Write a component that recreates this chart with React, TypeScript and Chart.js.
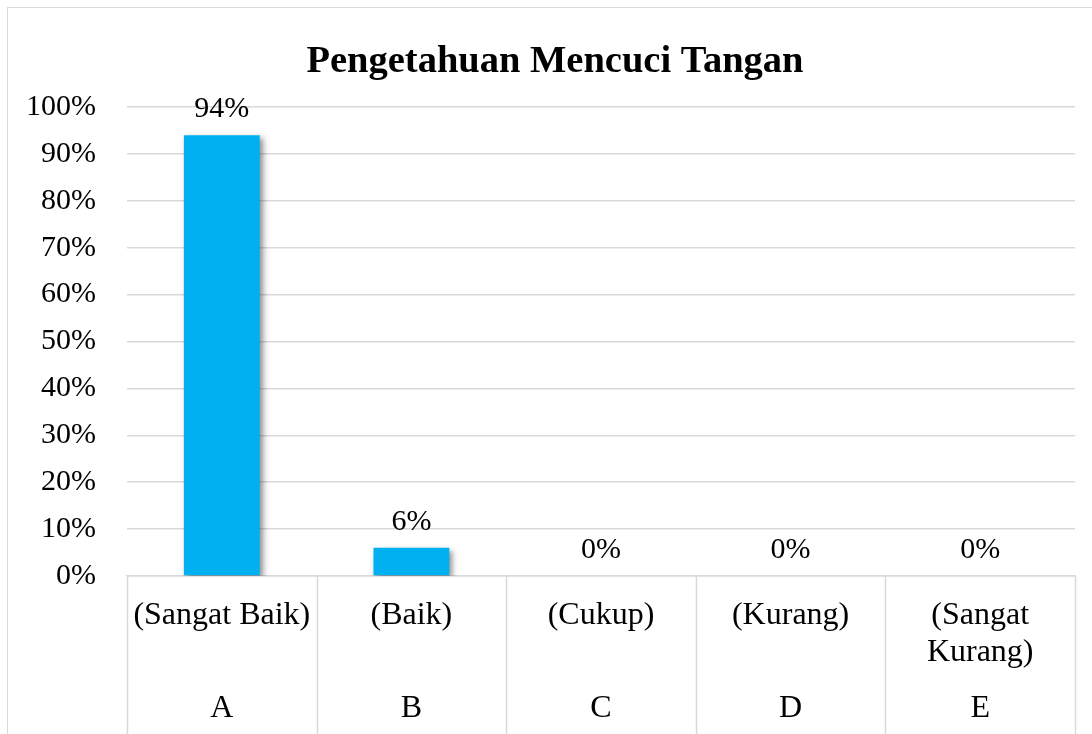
import React, { useEffect, useRef } from "react";
import { Chart, registerables } from "chart.js";

Chart.register(...registerables);

const TITLE = "Pengetahuan Mencuci Tangan";
const CATEGORY_LABELS: (string | string[])[] = [
  "(Sangat Baik)",
  "(Baik)",
  "(Cukup)",
  "(Kurang)",
  ["(Sangat", "Kurang)"],
];
const GROUP_LABELS = ["A", "B", "C", "D", "E"];
const VALUES = [94, 6, 0, 0, 0];
const VALUE_LABELS = ["94%", "6%", "0%", "0%", "0%"];

const FONT = "'Liberation Serif', 'Times New Roman', serif";
const GRID = "#d9d9d9";

const decorPlugin = {
  id: "decor",
  beforeDatasetsDraw(chart: any) {
    const ctx = chart.ctx;
    ctx.save();
    ctx.shadowColor = "rgba(0,0,0,0.45)";
    ctx.shadowBlur = 6;
    ctx.shadowOffsetX = 3;
    ctx.shadowOffsetY = 3;
  },
  afterDatasetsDraw(chart: any) {
    const ctx = chart.ctx;
    ctx.restore();
    const meta = chart.getDatasetMeta(0);
    ctx.save();
    ctx.fillStyle = "#000";
    ctx.font = `30px ${FONT}`;
    ctx.textAlign = "center";
    ctx.textBaseline = "alphabetic";
    meta.data.forEach((bar: any, i: number) => {
      ctx.fillText(VALUE_LABELS[i], bar.x, bar.y - 18);
    });
    ctx.restore();
  },
  afterDraw(chart: any) {
    const ctx = chart.ctx;
    const xs = chart.scales.x;
    const area = chart.chartArea;
    const n = GROUP_LABELS.length;
    const step = (area.right - area.left) / n;
    ctx.save();
    // title
    ctx.fillStyle = "#000";
    ctx.font = `bold 38.5px ${FONT}`;
    ctx.textAlign = "center";
    ctx.textBaseline = "alphabetic";
    ctx.fillText(TITLE, chart.width / 2, 64);
    // separators
    ctx.strokeStyle = GRID;
    ctx.lineWidth = 1.5;
    for (let i = 0; i <= n; i++) {
      const x = Math.round(area.left + i * step) + 0.5;
      ctx.beginPath();
      ctx.moveTo(x, area.bottom);
      ctx.lineTo(x, chart.height);
      ctx.stroke();
    }
    // group labels
    ctx.font = `32px ${FONT}`;
    ctx.textBaseline = "middle";
    GROUP_LABELS.forEach((g, i) => {
      ctx.fillText(g, xs.getPixelForValue(i), 701);
    });
    ctx.restore();
  },
};

export default function App() {
  const ref = useRef<HTMLCanvasElement>(null);
  useEffect(() => {
    document.body.style.margin = "0";
    const chart = new Chart(ref.current!, {
      type: "bar",
      data: {
        labels: CATEGORY_LABELS as any,
        datasets: [
          {
            data: VALUES,
            backgroundColor: "#00B0F0",
            borderWidth: 0,
            categoryPercentage: 1,
            barPercentage: 0.4,
          },
        ],
      },
      options: {
        responsive: false,
        animation: false,
        devicePixelRatio: 1,
        layout: { padding: { top: 99, right: 27, left: 0, bottom: 0 } },
        plugins: {
          legend: { display: false },
          title: { display: false },
          tooltip: { enabled: false },
        },
        scales: {
          x: {
            grid: { display: false, drawTicks: false },
            border: { display: true, color: GRID, width: 1.5 },
            ticks: {
              color: "#000",
              font: { family: FONT, size: 32, lineHeight: 1.15 },
              padding: 21,
              maxRotation: 0,
              autoSkip: false,
            },
            afterFit(scale: any) {
              scale.height = 760 - 568;
            },
          },
          y: {
            min: 0,
            max: 100,
            grid: { color: GRID, lineWidth: 1.5, drawTicks: false },
            border: { display: false },
            ticks: {
              stepSize: 10,
              color: "#000",
              font: { family: FONT, size: 30 },
              padding: 31,
              callback: (v: any) => `${v}%`,
            },
            afterFit(scale: any) {
              scale.width = 119;
            },
          },
        },
      },
      plugins: [decorPlugin],
    });
    return () => chart.destroy();
  }, []);

  return (
    <div
      style={{
        position: "fixed",
        left: 0,
        top: 0,
        width: 1092,
        height: 734,
        overflow: "hidden",
        background: "#fff",
      }}
    >
      <div
        style={{
          position: "absolute",
          left: 7,
          top: 7,
          borderTop: `1px solid ${GRID}`,
          borderLeft: `1px solid ${GRID}`,
        }}
      >
        <canvas ref={ref} width={1094} height={760} style={{ display: "block", width: 1094, height: 760 }} />
      </div>
    </div>
  );
}
